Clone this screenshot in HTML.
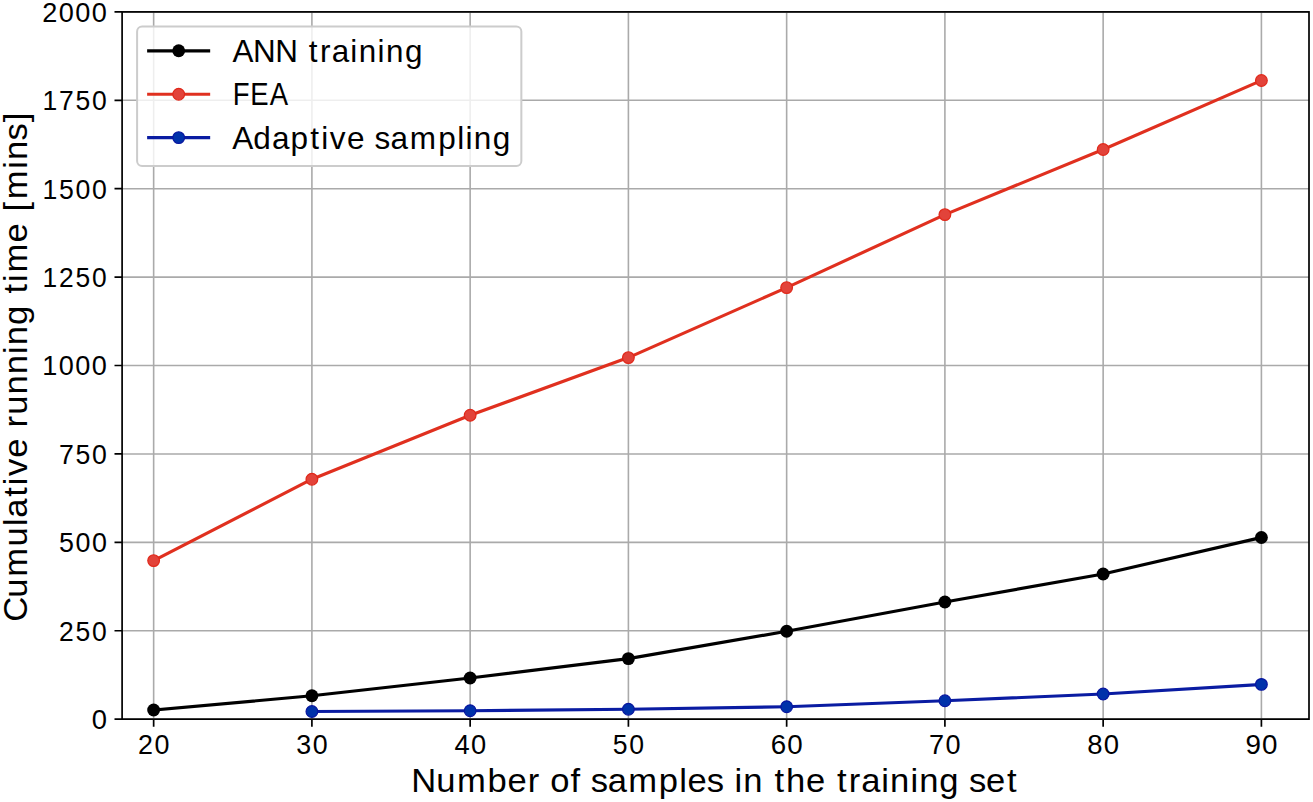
<!DOCTYPE html><html><head><meta charset="utf-8"><style>html,body{margin:0;padding:0;background:#fff;overflow:hidden}svg{display:block}text{font-family:"Liberation Sans",sans-serif;fill:#000}</style></head><body>
<svg width="1313" height="802" viewBox="0 0 1313 802">
<rect width="1313" height="802" fill="#fff"/>
<path d="M153.65 11.90V719.15M311.90 11.90V719.15M470.15 11.90V719.15M628.40 11.90V719.15M786.65 11.90V719.15M944.90 11.90V719.15M1103.15 11.90V719.15M1261.40 11.90V719.15M122.10 719.15H1309.00M122.10 630.74H1309.00M122.10 542.34H1309.00M122.10 453.93H1309.00M122.10 365.52H1309.00M122.10 277.12H1309.00M122.10 188.71H1309.00M122.10 100.31H1309.00M122.10 11.90H1309.00" stroke="#aaaaaa" stroke-width="1.6" fill="none"/>
<polyline points="153.65,710.00 311.90,695.80 470.15,678.00 628.40,658.60 786.65,631.30 944.90,602.00 1103.15,574.00 1261.40,537.50" fill="none" stroke="#000" stroke-width="3.15" stroke-linejoin="round" stroke-linecap="square"/><circle cx="153.65" cy="710.00" r="6.45" fill="#000"/><circle cx="311.90" cy="695.80" r="6.45" fill="#000"/><circle cx="470.15" cy="678.00" r="6.45" fill="#000"/><circle cx="628.40" cy="658.60" r="6.45" fill="#000"/><circle cx="786.65" cy="631.30" r="6.45" fill="#000"/><circle cx="944.90" cy="602.00" r="6.45" fill="#000"/><circle cx="1103.15" cy="574.00" r="6.45" fill="#000"/><circle cx="1261.40" cy="537.50" r="6.45" fill="#000"/>
<polyline points="153.65,560.60 311.90,479.20 470.15,415.30 628.40,357.60 786.65,287.60 944.90,214.60 1103.15,149.50 1261.40,80.55" fill="none" stroke="#e0301f" stroke-width="3.15" stroke-linejoin="round" stroke-linecap="square"/><circle cx="153.65" cy="560.60" r="5.85" fill="#e2433a" stroke="#e0281a" stroke-width="1.2"/><circle cx="311.90" cy="479.20" r="5.85" fill="#e2433a" stroke="#e0281a" stroke-width="1.2"/><circle cx="470.15" cy="415.30" r="5.85" fill="#e2433a" stroke="#e0281a" stroke-width="1.2"/><circle cx="628.40" cy="357.60" r="5.85" fill="#e2433a" stroke="#e0281a" stroke-width="1.2"/><circle cx="786.65" cy="287.60" r="5.85" fill="#e2433a" stroke="#e0281a" stroke-width="1.2"/><circle cx="944.90" cy="214.60" r="5.85" fill="#e2433a" stroke="#e0281a" stroke-width="1.2"/><circle cx="1103.15" cy="149.50" r="5.85" fill="#e2433a" stroke="#e0281a" stroke-width="1.2"/><circle cx="1261.40" cy="80.55" r="5.85" fill="#e2433a" stroke="#e0281a" stroke-width="1.2"/>
<polyline points="311.90,711.50 470.15,710.70 628.40,709.20 786.65,706.70 944.90,700.80 1103.15,694.00 1261.40,684.40" fill="none" stroke="#0a1ca2" stroke-width="3.15" stroke-linejoin="round" stroke-linecap="square"/><circle cx="311.90" cy="711.50" r="5.85" fill="#0032aa" stroke="#0816a0" stroke-width="1.2"/><circle cx="470.15" cy="710.70" r="5.85" fill="#0032aa" stroke="#0816a0" stroke-width="1.2"/><circle cx="628.40" cy="709.20" r="5.85" fill="#0032aa" stroke="#0816a0" stroke-width="1.2"/><circle cx="786.65" cy="706.70" r="5.85" fill="#0032aa" stroke="#0816a0" stroke-width="1.2"/><circle cx="944.90" cy="700.80" r="5.85" fill="#0032aa" stroke="#0816a0" stroke-width="1.2"/><circle cx="1103.15" cy="694.00" r="5.85" fill="#0032aa" stroke="#0816a0" stroke-width="1.2"/><circle cx="1261.40" cy="684.40" r="5.85" fill="#0032aa" stroke="#0816a0" stroke-width="1.2"/>
<rect x="122.10" y="11.90" width="1186.90" height="707.25" fill="none" stroke="#000" stroke-width="1.7" stroke-linejoin="miter"/>
<path d="M153.65 719.15v7.6M311.90 719.15v7.6M470.15 719.15v7.6M628.40 719.15v7.6M786.65 719.15v7.6M944.90 719.15v7.6M1103.15 719.15v7.6M1261.40 719.15v7.6M122.10 719.15h-7.6M122.10 630.74h-7.6M122.10 542.34h-7.6M122.10 453.93h-7.6M122.10 365.52h-7.6M122.10 277.12h-7.6M122.10 188.71h-7.6M122.10 100.31h-7.6M122.10 11.90h-7.6" stroke="#000" stroke-width="1.7" fill="none"/>
<text transform="translate(0 753.60) scale(0.9816 1)" x="140.53 157.33" y="0" font-size="27.40">20</text>
<text transform="translate(0 753.60) scale(0.9784 1)" x="302.74 319.60" y="0" font-size="27.40">30</text>
<text transform="translate(0 753.60) scale(0.9966 1)" x="456.16 472.71" y="0" font-size="27.40">40</text>
<text transform="translate(0 753.60) scale(0.9709 1)" x="631.07 648.06" y="0" font-size="27.40">50</text>
<text transform="translate(0 753.60) scale(1.0140 1)" x="760.08 776.34" y="0" font-size="27.40">60</text>
<text transform="translate(0 753.60) scale(0.9893 1)" x="939.05 955.72" y="0" font-size="27.40">70</text>
<text transform="translate(0 753.60) scale(1.0035 1)" x="1083.56 1100.00" y="0" font-size="27.40">80</text>
<text transform="translate(0 753.60) scale(1.0140 1)" x="1228.37 1244.63" y="0" font-size="27.40">90</text>
<text transform="translate(0 729.05) scale(1.0006 1)" x="91.70" y="0" font-size="27.40">0</text>
<text transform="translate(0 640.64) scale(0.9679 1)" x="60.97 78.01 95.05" y="0" font-size="27.40">250</text>
<text transform="translate(0 552.24) scale(0.9808 1)" x="60.07 76.88 93.70" y="0" font-size="27.40">500</text>
<text transform="translate(0 463.83) scale(0.9730 1)" x="60.61 77.56 94.51" y="0" font-size="27.40">750</text>
<text transform="translate(0 375.42) scale(0.9892 1)" x="42.82 59.50 76.17 92.84" y="0" font-size="27.40">1000</text>
<text transform="translate(0 287.02) scale(0.9641 1)" x="44.14 61.24 78.35 95.46" y="0" font-size="27.40">1250</text>
<text transform="translate(0 198.61) scale(0.9740 1)" x="43.61 60.54 77.47 94.40" y="0" font-size="27.40">1500</text>
<text transform="translate(0 110.21) scale(0.9680 1)" x="43.93 60.97 78.01 95.04" y="0" font-size="27.40">1750</text>
<text transform="translate(0 21.80) scale(0.9912 1)" x="42.72 59.36 76.00 92.64" y="0" font-size="27.40">2000</text>
<text transform="translate(0 791.90) scale(1.0256 1)" x="401.08 425.37 445.71 475.40 494.84 514.56 526.83 536.60 556.28 566.70 576.00 592.68 612.70 642.39 662.21 670.47 689.09 705.88 716.08 724.63 744.12 755.16 766.43 785.85 805.06 816.10 827.66 839.82 859.30 867.85 887.66 896.21 915.93 935.44 944.74 961.47 981.83" y="0" font-size="33.72">Number of samples in the training set</text>
<text transform="translate(26.90 618.70) rotate(-90) scale(1.0267 1)" x="-3.04 20.46 40.77 70.41 90.21 98.41 118.72 130.06 138.89 156.69 175.88 186.28 198.75 218.44 238.13 257.93 266.46 286.17 305.66 316.69 328.03 337.19 366.54 385.73 396.73 408.57 438.31 446.85 465.73 483.63" y="0" font-size="33.72">Cumulative running time [mins]</text>
<rect x="137.1" y="26.6" width="384.25" height="139.40" rx="5" ry="5" fill="#fff" fill-opacity="0.8" stroke="#cccccc" stroke-width="2"/>
<path d="M148.7 50.8H208.6" stroke="#000" stroke-width="3.15" stroke-linecap="square"/><circle cx="178.70" cy="50.80" r="6.45" fill="#000"/>
<text transform="translate(0 61.70) scale(0.9949 1)" x="233.61 254.26 276.74 299.78 310.45 321.65 333.51 352.17 360.59 379.57 387.99 407.05" y="0" font-size="31.60">ANN training</text>
<path d="M148.7 94.2H208.6" stroke="#e0301f" stroke-width="3.15" stroke-linecap="square"/><circle cx="178.70" cy="94.20" r="5.85" fill="#e2433a" stroke="#e0281a" stroke-width="1.2"/>
<text transform="translate(0 105.10) scale(0.8706 1)" x="267.48 287.32 309.92" y="0" font-size="31.60">FEA</text>
<path d="M148.7 137.6H208.6" stroke="#0a1ca2" stroke-width="3.15" stroke-linecap="square"/><circle cx="178.70" cy="137.60" r="5.85" fill="#0032aa" stroke="#0816a0" stroke-width="1.2"/>
<text transform="translate(0 148.50) scale(0.9975 1)" x="232.96 253.95 272.64 291.34 311.13 322.05 330.69 347.89 366.28 375.34 391.44 410.85 439.34 458.29 466.62 475.00 494.01" y="0" font-size="31.60">Adaptive sampling</text>
</svg></body></html>
